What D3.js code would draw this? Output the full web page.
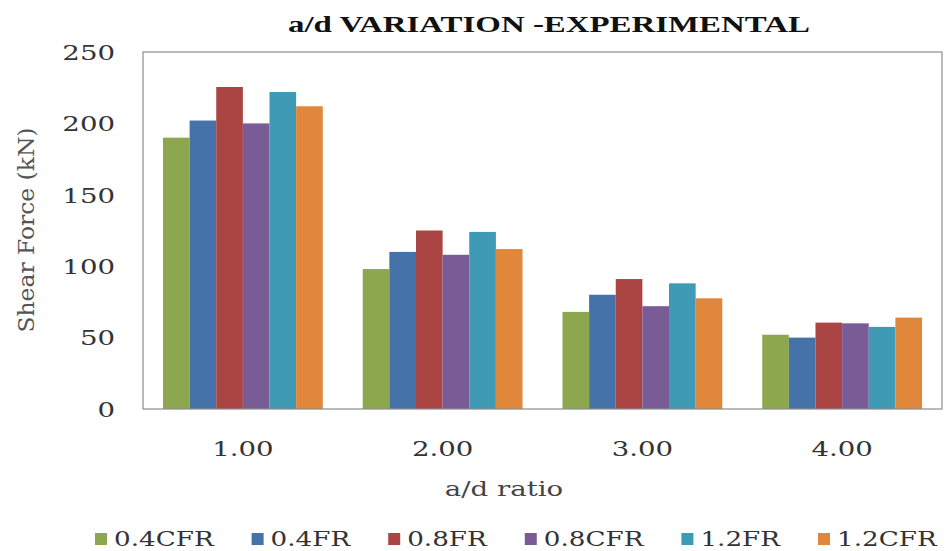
<!DOCTYPE html>
<html>
<head>
<meta charset="utf-8">
<script src="https://cdn.jsdelivr.net/npm/d3@7"></script>
<style>
  html, body { margin: 0; padding: 0; background: #fff; }
  svg { display: block; }
</style>
</head>
<body>
<svg id="chart" width="946" height="551"></svg>
<script>
// a/d ratio categories and shear force (kN) per fibre mix
const categories = ["1.00", "2.00", "3.00", "4.00"];
const seriesNames = ["0.4CFR", "0.4FR", "0.8FR", "0.8CFR", "1.2FR", "1.2CFR"];
const v04CFR = [190, 98, 68, 52];
const v04FR  = [202, 110, 80, 50];
const v08FR  = [225.5, 125, 91, 60.5];
const v08CFR = [200, 108, 72, 60];
const v12FR  = [222, 124, 88, 57.5];
const v12CFR = [212, 112, 77.5, 64];
const yTicks = [0, 50, 100, 150, 200, 250];

const seriesValues = [v04CFR, v04FR, v08FR, v08CFR, v12FR, v12CFR];
const colors = ["#8DA74F", "#4672AA", "#AA4543", "#795B96", "#3E9AB5", "#E0873C"];

const svg = d3.select("#chart");
const plot = { left: 143, right: 942, top: 52, bottom: 409 };
const serif = "'DejaVu Serif', serif";
const stretch = 1.38;

// widen a text node horizontally by a fixed factor
function widen(sel, f) {
  sel.each(function () {
    const w = this.getComputedTextLength();
    d3.select(this).attr("textLength", w * (f || stretch)).attr("lengthAdjust", "spacingAndGlyphs");
  });
}

const x = d3.scaleBand().domain(categories).range([plot.left, plot.right]).padding(0);
const bw = x.bandwidth();
const xInner = d3.scaleBand().domain(seriesNames).range([bw * 0.1, bw * 0.9]).padding(0);
const y = d3.scaleLinear().domain([0, 250]).range([plot.bottom, plot.top]);

// bars
const groups = svg.append("g").selectAll("g")
  .data(seriesNames)
  .join("g")
  .attr("fill", (d, i) => colors[i]);

groups.selectAll("rect")
  .data((s, i) => categories.map((c, j) => ({ c, s, v: seriesValues[i][j] })))
  .join("rect")
  .attr("x", d => x(d.c) + xInner(d.s))
  .attr("y", d => y(d.v))
  .attr("width", xInner.bandwidth())
  .attr("height", d => y(0) - y(d.v));

// plot frame
svg.append("rect")
  .attr("x", plot.left).attr("y", plot.top)
  .attr("width", plot.right - plot.left).attr("height", plot.bottom - plot.top)
  .attr("fill", "none").attr("stroke", "#8c8c8c").attr("stroke-width", 1.2);

// y axis labels
const yAxis = svg.append("g")
  .attr("transform", `translate(${plot.left},0)`)
  .call(d3.axisLeft(y).tickValues(yTicks).tickSize(0).tickPadding(28).tickFormat(d3.format("d")));
yAxis.select(".domain").remove();
yAxis.selectAll("text")
  .attr("font-family", serif).attr("font-size", 20).attr("fill", "#333")
  .attr("dy", "0.36em")
  .call(widen);

// x axis labels
const xAxis = svg.append("g")
  .attr("transform", `translate(0,${plot.bottom})`)
  .call(d3.axisBottom(x).tickSize(0).tickPadding(28));
xAxis.select(".domain").remove();
xAxis.selectAll("text")
  .attr("font-family", serif).attr("font-size", 20).attr("fill", "#333")
  .attr("dy", "0")
  .attr("y", 47)
  .call(widen);

// title
svg.append("text")
  .attr("x", 549).attr("y", 32)
  .attr("text-anchor", "middle")
  .attr("font-family", "'Liberation Serif', serif")
  .attr("font-weight", "bold").attr("font-size", 23).attr("fill", "#111")
  .text("a/d VARIATION -EXPERIMENTAL")
  .attr("textLength", 522).attr("lengthAdjust", "spacingAndGlyphs");

// axis titles
svg.append("text")
  .attr("x", 504).attr("y", 496)
  .attr("text-anchor", "middle")
  .attr("font-family", serif).attr("font-size", 20).attr("fill", "#444")
  .text("a/d ratio")
  .call(widen);

svg.append("text")
  .attr("transform", "translate(34,230) rotate(-90)")
  .attr("text-anchor", "middle")
  .attr("font-family", serif).attr("font-size", 23).attr("fill", "#555")
  .text("Shear Force (kN)")
  .attr("textLength", 205).attr("lengthAdjust", "spacingAndGlyphs");

// legend: square, label, then a fixed gap before the next entry
const legend = svg.append("g");
let lx = 95;
seriesNames.forEach((name, i) => {
  const item = legend.append("g").attr("transform", `translate(${lx},0)`);
  item.append("rect")
    .attr("x", 0).attr("y", 533).attr("width", 12).attr("height", 12)
    .attr("fill", colors[i]);
  const t = item.append("text")
    .attr("x", 19).attr("y", 546)
    .attr("font-family", serif).attr("font-size", 20).attr("fill", "#333")
    .text(name);
  widen(t, 1.31);
  lx += 19 + (+t.attr("textLength")) + 38;
});
</script>
</body>
</html>
